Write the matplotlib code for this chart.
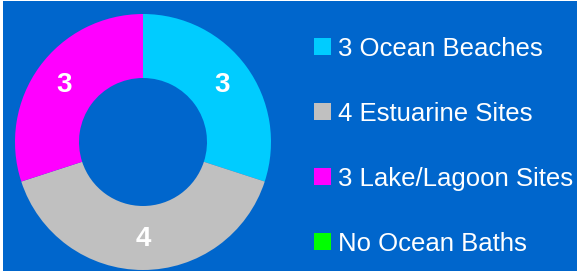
import matplotlib
matplotlib.use("Agg")
import matplotlib.pyplot as plt
from matplotlib.patches import Rectangle, Patch

categories = ["Ocean Beaches", "Estuarine Sites", "Lake/Lagoon Sites", "Ocean Baths"]
values = [3, 4, 3, 0]
legend_labels = ["3 Ocean Beaches", "4 Estuarine Sites", "3 Lake/Lagoon Sites", "No Ocean Baths"]
colors = ["#00CCFF", "#C0C0C0", "#FF00FF", "#00FF00"]
bg = "#0066CC"

W, H = 577, 271
fig = plt.figure(figsize=(W / 100, H / 100), dpi=100, facecolor="white")
fig.patches.append(Rectangle((3 / W, 0), 1 - 3 / W, 1 - 1 / H, transform=fig.transFigure,
                             facecolor=bg, edgecolor="none", zorder=-10))

cx, cy, r = 143, 271 - 142, 128
ax = fig.add_axes([(cx - r) / W, (cy - r) / H, 2 * r / W, 2 * r / H])
ax.set_facecolor("none")
ax.axis("off")

pie_vals = values[:3]
wedges, texts = ax.pie(pie_vals, colors=colors[:3], startangle=90, counterclock=False,
                       radius=1, wedgeprops=dict(width=0.5, edgecolor="none"),
                       labels=[str(v) for v in pie_vals], labeldistance=0.76,
                       textprops=dict(color="white", fontsize=20, fontweight="bold",
                                      family="Liberation Sans", ha="center", va="center"))
ax.set_xlim(-1, 1)
ax.set_ylim(-1, 1)

handles = [Patch(facecolor=c, edgecolor="none") for c in colors]
fig.legend(handles, legend_labels, loc="upper left", bbox_to_anchor=(314 / W, 1 - 36.5 / H),
           frameon=False, prop=dict(family="Liberation Sans", size=18.5),
           labelcolor="white", handlelength=0.66, handleheight=0.66, handletextpad=0.28,
           labelspacing=1.6, borderpad=0, borderaxespad=0)

fig.savefig("out.png", dpi=100, facecolor="white")
